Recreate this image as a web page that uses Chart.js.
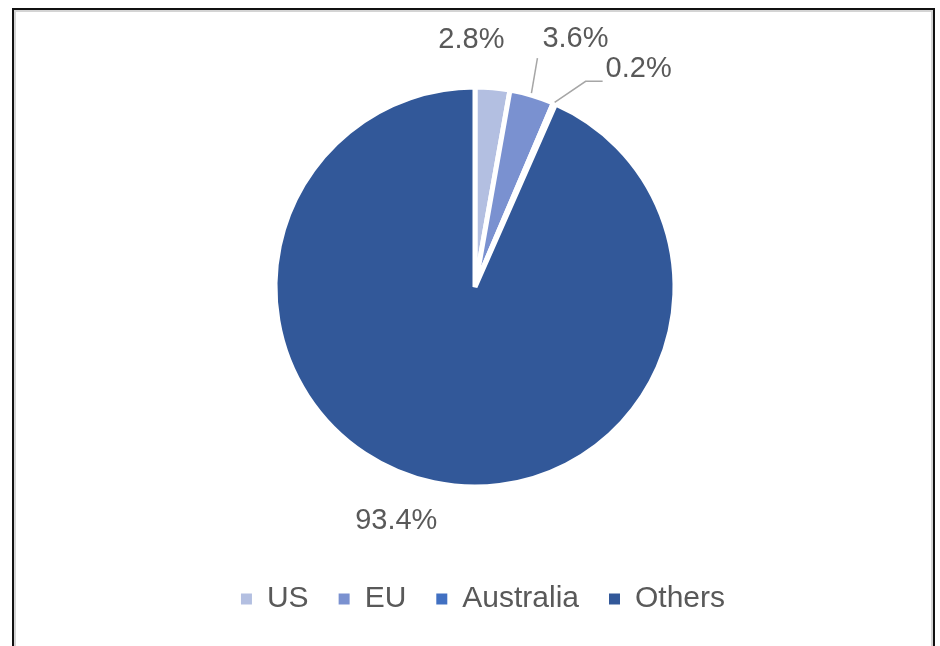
<!DOCTYPE html>
<html>
<head>
<meta charset="utf-8">
<title>Share by region</title>
<script src="https://cdn.jsdelivr.net/npm/chart.js@4/dist/chart.umd.min.js"></script>
<style>
  html, body { margin: 0; padding: 0; background: #fff; overflow: hidden; }
  #wrap { position: relative; width: 940px; height: 646px; }
  #frame {
    position: absolute; left: 12px; top: 8px; width: 919px; height: 660px;
    border: 2px solid #111; border-bottom: none;
    box-shadow: inset 2px 2px 0 #d4d4d4, inset -2px 0 0 #d4d4d4;
  }
  canvas { position: absolute; left: 0; top: 0; }
</style>
</head>
<body>
<div id="wrap">
  <div id="frame"></div>
  <canvas id="shareChart" width="940" height="646"></canvas>
</div>
<script>
const regions = ["US", "EU", "Australia", "Others"];
const shares = [2.8, 3.6, 0.2, 93.4];
const sliceColors = ["#b3bfe1", "#7a91d0", "#4170c2", "#325899"];

// where each percentage sits, measured from the outer point of its slice
const labelOffsets = [[-21, -50], [44, -58], [85, -36], [-38, 40]];

const TEXT = "#595959";
const LEADER = "#a6a6a6";

const pieLabels = {
  id: "pieLabels",
  afterLayout(chart) {
    // legend row sits a little right of the pie centre
    chart.legend.left += 8;
    chart.legend.right += 8;
  },
  afterDatasetsDraw(chart) {
    const ctx = chart.ctx;
    const arcs = chart.getDatasetMeta(0).data;
    ctx.save();
    ctx.font = "29px 'Liberation Sans', Arial, sans-serif";
    ctx.fillStyle = TEXT;
    ctx.textAlign = "center";
    ctx.textBaseline = "middle";
    arcs.forEach((arc, i) => {
      const { x, y, startAngle, endAngle, outerRadius } = arc.getProps(
        ["x", "y", "startAngle", "endAngle", "outerRadius"], true);
      const mid = (startAngle + endAngle) / 2;
      const ex = x + Math.cos(mid) * (outerRadius - 2);
      const ey = y + Math.sin(mid) * (outerRadius - 2);
      const lx = ex + labelOffsets[i][0];
      const ly = ey + labelOffsets[i][1];

      // leader lines for the two slices whose labels sit away from them
      ctx.strokeStyle = LEADER;
      ctx.lineWidth = 1.5;
      if (regions[i] === "EU") {
        ctx.beginPath();
        ctx.moveTo(ex, ey - 4);
        ctx.lineTo(lx - 38, ly + 19);
        ctx.stroke();
      } else if (regions[i] === "Australia") {
        ctx.beginPath();
        ctx.moveTo(ex + 1, ey - 3);
        ctx.lineTo(lx - 53, ly + 12);
        ctx.lineTo(lx - 36, ly + 12);
        ctx.stroke();
      }
      ctx.fillText(shares[i].toFixed(1) + "%", lx, ly);
    });
    ctx.restore();
  }
};

new Chart(document.getElementById("shareChart").getContext("2d"), {
  type: "pie",
  data: {
    labels: regions,
    datasets: [{
      data: shares,
      backgroundColor: sliceColors,
      borderColor: "#ffffff",
      borderWidth: 5,
      radius: 200
    }]
  },
  options: {
    responsive: false,
    animation: false,
    events: [],
    layout: { padding: { left: 10, right: 0, top: 20, bottom: 22 } },
    plugins: {
      tooltip: { enabled: false },
      legend: {
        position: "bottom",
        labels: {
          boxWidth: 11,
          boxHeight: 11,
          padding: 30,
          color: TEXT,
          font: { family: "'Liberation Sans', Arial, sans-serif", size: 30 },
          generateLabels(chart) {
            const items = Chart.overrides.pie.plugins.legend.labels.generateLabels(chart);
            return items.map(it => Object.assign(it, { lineWidth: 0 }));
          }
        }
      }
    }
  },
  plugins: [pieLabels]
});
</script>
</body>
</html>
